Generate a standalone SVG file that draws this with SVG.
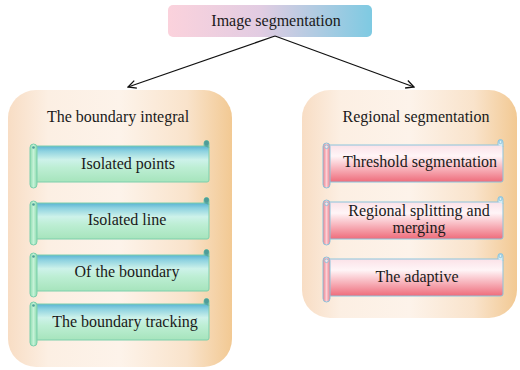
<svg xmlns="http://www.w3.org/2000/svg" xmlns:xlink="http://www.w3.org/1999/xlink" width="520" height="370" viewBox="0 0 520 370">
  <defs>
    <style>
      .lbl { font-family: 'Liberation Serif', 'DejaVu Serif', serif; font-size: 16px; fill: #1a1a1a; text-anchor: middle; }
      .conn { stroke: #111; stroke-width: 1.3; fill: none; }
      .edgeG { stroke: #7ccfac; stroke-width: 1; }
      .edgeP { stroke: #8cc4dc; stroke-width: 1; }
    </style>
    <linearGradient id="topFill" x1="0" y1="0" x2="1" y2="0">
      <stop offset="0" stop-color="#fbd2dc"/>
      <stop offset="0.45" stop-color="#e2cce2"/>
      <stop offset="1" stop-color="#7ecae2"/>
    </linearGradient>
    <linearGradient id="panelFill" x1="0" y1="0" x2="1" y2="0">
      <stop offset="0" stop-color="#f8ddc4"/>
      <stop offset="0.18" stop-color="#fcefe3"/>
      <stop offset="0.5" stop-color="#fdf3ea"/>
      <stop offset="0.8" stop-color="#f9e3cb"/>
      <stop offset="1" stop-color="#f2c993"/>
    </linearGradient>
    <linearGradient id="greenFill" x1="0" y1="0" x2="0" y2="1">
      <stop offset="0" stop-color="#5ab4d4"/>
      <stop offset="0.14" stop-color="#8ed2e0"/>
      <stop offset="0.38" stop-color="#cdf2ea"/>
      <stop offset="0.6" stop-color="#bdeed4"/>
      <stop offset="1" stop-color="#a6e4bc"/>
    </linearGradient>
    <linearGradient id="greenRoll" x1="0" y1="0" x2="1" y2="0">
      <stop offset="0" stop-color="#8cdcae"/>
      <stop offset="0.5" stop-color="#c6f2d8"/>
      <stop offset="1" stop-color="#8cdcae"/>
    </linearGradient>
    <linearGradient id="pinkFill" x1="0" y1="0" x2="0" y2="1">
      <stop offset="0" stop-color="#fbe2e8"/>
      <stop offset="0.3" stop-color="#fff5f7"/>
      <stop offset="0.62" stop-color="#f8b6be"/>
      <stop offset="1" stop-color="#ee6c7b"/>
    </linearGradient>
    <linearGradient id="pinkRoll" x1="0" y1="0" x2="1" y2="0">
      <stop offset="0" stop-color="#ef7c88"/>
      <stop offset="0.5" stop-color="#fbd0d6"/>
      <stop offset="1" stop-color="#ef7c88"/>
    </linearGradient>
    <marker id="openArrow" viewBox="0 0 10 10" refX="9" refY="5" markerWidth="10" markerHeight="10" markerUnits="userSpaceOnUse" orient="auto">
      <path d="M1,1 L9,5 L1,9" fill="none" stroke="#111" stroke-width="1.3"/>
    </marker>
    <!-- green scroll banner, body 176 x 36 -->
    <g id="scrollGreen">
      <rect x="3" y="0" width="176" height="36" rx="2" fill="url(#greenFill)" class="edgeG"/>
      <path d="M174,0 L174,-3 A2.5,2.5 0 0 1 179,-3 L179,2" fill="#5aa9a4" class="edgeG"/>
      <circle cx="176.5" cy="-3" r="2.4" fill="#4f9c98"/>
      <rect x="0" y="-2" width="7" height="44" rx="3.5" fill="url(#greenRoll)" class="edgeG"/>
      <circle cx="3.5" cy="1.5" r="1.3" fill="#4f9c98"/>
    </g>
    <!-- pink scroll banner, body 177 x 37 -->
    <g id="scrollPink">
      <rect x="3" y="0" width="177" height="37" rx="2" fill="url(#pinkFill)" class="edgeP"/>
      <path d="M175,0 L175,-3 A2.5,2.5 0 0 1 180,-3 L180,2" fill="#d8eef6" class="edgeP"/>
      <circle cx="177.5" cy="-3" r="1.6" fill="none" class="edgeP"/>
      <rect x="0" y="-2" width="7" height="45" rx="3.5" fill="url(#pinkRoll)" class="edgeP"/>
      <circle cx="3.5" cy="1.8" r="1.8" fill="#fbe2e8" class="edgeP"/>
    </g>
  </defs>

  <rect width="520" height="370" fill="#ffffff"/>

  <!-- root node -->
  <g id="node-root">
    <rect x="168" y="5" width="204" height="32" rx="5" fill="url(#topFill)"/>
    <text class="lbl" x="276" y="26">Image segmentation</text>
  </g>

  <!-- connectors -->
  <g id="connectors">
    <line class="conn" x1="275" y1="36" x2="128" y2="87" marker-end="url(#openArrow)"/>
    <line class="conn" x1="275" y1="36" x2="414" y2="87" marker-end="url(#openArrow)"/>
  </g>

  <!-- left branch -->
  <g id="node-boundary">
    <rect x="8" y="90" width="224" height="277" rx="28" fill="url(#panelFill)"/>
    <text class="lbl" x="118" y="122">The boundary integral</text>
  </g>
  <g id="node-isolated-points">
    <use xlink:href="#scrollGreen" transform="translate(30,146)"/>
    <text class="lbl" x="128" y="169">Isolated points</text>
  </g>
  <g id="node-isolated-line">
    <use xlink:href="#scrollGreen" transform="translate(30,203)"/>
    <text class="lbl" x="127" y="225">Isolated line</text>
  </g>
  <g id="node-of-boundary">
    <use xlink:href="#scrollGreen" transform="translate(30,255)"/>
    <text class="lbl" x="127" y="277">Of the boundary</text>
  </g>
  <g id="node-boundary-tracking">
    <use xlink:href="#scrollGreen" transform="translate(30,304)"/>
    <text class="lbl" x="125" y="327">The boundary tracking</text>
  </g>

  <!-- right branch -->
  <g id="node-regional">
    <rect x="302" y="90" width="215" height="228" rx="28" fill="url(#panelFill)"/>
    <text class="lbl" x="416" y="122">Regional segmentation</text>
  </g>
  <g id="node-threshold">
    <use xlink:href="#scrollPink" transform="translate(323,145)"/>
    <text class="lbl" x="420" y="167">Threshold segmentation</text>
  </g>
  <g id="node-splitting">
    <use xlink:href="#scrollPink" transform="translate(323,202)"/>
    <text class="lbl" x="419" y="216">Regional splitting and</text>
    <text class="lbl" x="419" y="233">merging</text>
  </g>
  <g id="node-adaptive">
    <use xlink:href="#scrollPink" transform="translate(323,259)"/>
    <text class="lbl" x="417" y="282">The adaptive</text>
  </g>
</svg>
